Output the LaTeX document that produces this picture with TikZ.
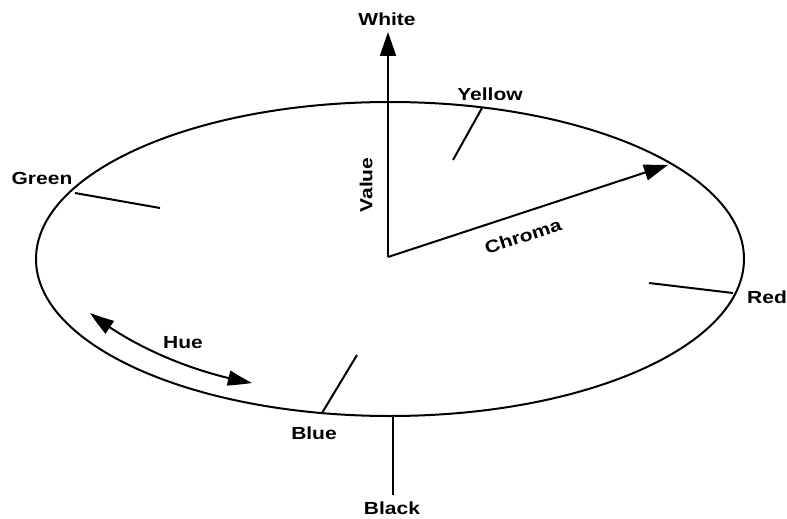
\documentclass[tikz,border=0pt]{standalone}
\usepackage{fontspec}
\setmainfont{Liberation Sans}[FakeStretch=1.2]
\usetikzlibrary{arrows.meta,bending}
\tikzset{
  line/.style={line width=2pt},
  tip/.style={-{Triangle[length=24pt,width=16pt]}},
  lbl/.style={font=\fontsize{17.5}{17.5}\selectfont\bfseries, inner sep=1pt},
}
\begin{document}
\begin{tikzpicture}[x=1pt,y=-1pt]
\useasboundingbox (0,0) rectangle (787,519);
% ellipse
\draw[line] (390,259) ellipse [x radius=354, y radius=157];
% centre and axes
\coordinate (o) at (388,257);
\node[lbl] (white) at (387,19) {White};
\node[lbl] (black) at (392,508) {Black};
\coordinate (vtop) at (388,32);
\coordinate (bt) at (393,417);
\coordinate (bb) at (393,495);
\draw[line,tip] (o) -- (vtop);
\draw[line] (bt) -- (bb);
\node[lbl, rotate=90] (value) at (366,185) {Value};
% chroma
\coordinate (ctip) at (668,165);
\draw[line,tip] (o) -- (ctip);
\node[lbl, rotate=18] (chroma) at (523,236) {Chroma};
% hue ticks
\node[lbl] (yellow) at (490,94) {Yellow};
\coordinate (y1) at (482,108); \coordinate (y2) at (453,160);
\draw[line] (y1) -- (y2);
\node[lbl] (green) at (42,178) {Green};
\coordinate (g1) at (75,193); \coordinate (g2) at (160,208);
\draw[line] (g1) -- (g2);
\node[lbl] (red) at (767,297) {Red};
\coordinate (r1) at (733,293); \coordinate (r2) at (649,283);
\draw[line] (r1) -- (r2);
\node[lbl] (blue) at (314,433) {Blue};
\coordinate (b1) at (322,413); \coordinate (b2) at (357,355);
\draw[line] (b1) -- (b2);
% hue arrow
\node[lbl] (hue) at (183,343) {Hue};
\coordinate (h1) at (90,313); \coordinate (h2) at (252,383);
\draw[line,{Triangle[length=24pt,width=15pt,bend]}-{Triangle[length=24pt,width=15pt,bend]}] (h1) .. controls (130,345) and (190,372) .. (h2);
\end{tikzpicture}
\end{document}
